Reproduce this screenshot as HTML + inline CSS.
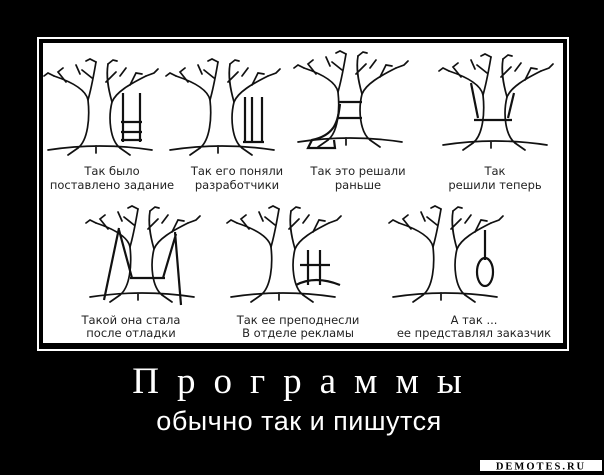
<!DOCTYPE html>
<html><head><meta charset="utf-8"><style>
html,body{margin:0;padding:0;background:#000;}
body{width:604px;height:475px;position:relative;overflow:hidden;}
svg{position:absolute;left:0;top:0;}
.l{font-family:"DejaVu Sans","Liberation Sans",sans-serif;font-size:11.5px;fill:#222;text-anchor:middle;}
</style></head><body>
<svg width="604" height="475" viewBox="0 0 604 475">
<defs>
<g id="t" fill="none" stroke="#111" stroke-width="1.7" stroke-linecap="round">
<path d="M-22,0 C-12,-8 -10,-30 -12,-48 C-14,-58 -28,-66 -46,-72"/>
<path d="M20,0 C10,-8 8,-30 12,-46 C16,-56 30,-64 46,-72"/>
<path d="M-12,-48 C-8,-62 -6,-75 -4,-86 M12,-46 C8,-60 6,-72 8,-84"/>
<path d="M-46,-72 l-6,-3 l-4,3 M46,-72 l8,-3 l4,-4 M-4,-86 l-6,-3 l-4,2 M8,-84 l5,-4 l4,1 M-34,-66 l-8,-10 l5,-4 M30,-63 l6,-12 l6,1 M-20,-74 l-4,-9 M20,-72 l6,-8 M-8,-70 l-10,-8 M6,-66 l10,-10"/>
<path d="M-52,2 Q0,-6 52,2 M-22,0 l-10,7 M20,0 l10,7 M-4,-2 l0,7"/>
</g>
</defs>
<rect x="38" y="38" width="530" height="312" fill="none" stroke="#fff" stroke-width="2"/>
<rect x="43" y="43" width="520" height="300" fill="#fff"/>
<use href="#t" x="100" y="148"/>
<use href="#t" x="222" y="148"/>
<use href="#t" x="350" y="140"/>
<use href="#t" x="495" y="143"/>
<use href="#t" x="142" y="295"/>
<use href="#t" x="283" y="295"/>
<use href="#t" x="445" y="295"/>
<g fill="none" stroke="#111" stroke-width="2.2">
<path d="M123,93 V142 M140,93 V142 M121,122 H142 M121,132 H142 M121,140 H142"/>
<path d="M245,97 V142 M252,97 V142 M262,97 V142 M243,142 H264"/>
<path d="M338,102 H362 M338,118 H362 M340,104 C338,120 336,135 312,140 L308,148 H335 L334,140"/>
<path d="M471,83 L478,118 M514,93 L508,118 M474,120 H512"/>
<path d="M104,300 L119,228 M181,305 L175,232 M119,230 L132,278 M176,234 L163,278 M130,278 H165"/>
<path d="M485,230 V260"/>
<ellipse cx="485" cy="272" rx="8" ry="14"/>
<path d="M308,250 V285 M320,250 V285 M300,265 H330 M296,285 Q315,275 340,285"/>
</g>
<text class="l" x="112" y="175">Так было</text>
<text class="l" x="112" y="189">поставлено задание</text>
<text class="l" x="237" y="175">Так его поняли</text>
<text class="l" x="237" y="189">разработчики</text>
<text class="l" x="358" y="175">Так это решали</text>
<text class="l" x="358" y="189">раньше</text>
<text class="l" x="495" y="175">Так</text>
<text class="l" x="495" y="189">решили теперь</text>
<text class="l" x="131" y="324">Такой она стала</text>
<text class="l" x="131" y="337">после отладки</text>
<text class="l" x="298" y="324">Так ее преподнесли</text>
<text class="l" x="298" y="337">В отделе рекламы</text>
<text class="l" x="474" y="324">А так ...</text>
<text class="l" x="474" y="337">ее представлял заказчик</text>
<text x="306" y="393" fill="#fff" text-anchor="middle" font-family="Liberation Serif,serif" font-size="37" letter-spacing="18">Программы</text>
<text x="299" y="430" fill="#fff" text-anchor="middle" font-family="Liberation Sans,sans-serif" font-size="27" letter-spacing="0.5">обычно так и пишутся</text>
<rect x="480" y="460" width="122" height="11" fill="#fff"/>
<text x="541" y="469.5" fill="#000" text-anchor="middle" font-family="Liberation Serif,serif" font-weight="bold" font-size="10.5" letter-spacing="2">DEMOTES.RU</text>
</svg>
</body></html>
